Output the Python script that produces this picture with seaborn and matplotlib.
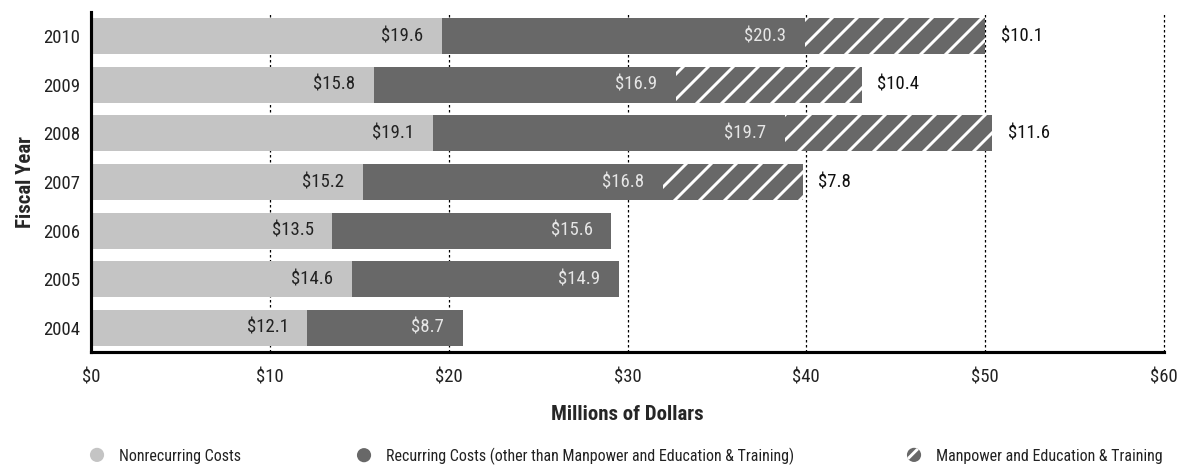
import numpy as np
import pandas as pd
import matplotlib
matplotlib.use('Agg')
import matplotlib.pyplot as plt
import matplotlib.patches as mpatches
from matplotlib.legend_handler import HandlerPatch
import seaborn as sns

# ==========================================
# data
# ==========================================
years = ['2004', '2005', '2006', '2007', '2008', '2009', '2010']
nonrecurring = [12.1, 14.6, 13.5, 15.2, 19.1, 15.8, 19.6]
recurring = [8.7, 14.9, 15.6, 16.8, 19.7, 16.9, 20.3]
manpower = [0, 0, 0, 7.8, 11.6, 10.4, 10.1]
x_ticks = [0, 10, 20, 30, 40, 50, 60]

LIGHT = '#c4c4c4'
DARK = '#686868'

sns.set_style('white')
plt.rcParams['font.family'] = ['Roboto Condensed', 'Archivo Narrow', 'DejaVu Sans']
plt.rcParams['hatch.linewidth'] = 1.4

df = pd.DataFrame({'year': years, 'nonrec': nonrecurring, 'rec': recurring, 'man': manpower})
df['cum_rec'] = df['nonrec'] + df['rec']
df['total'] = df['cum_rec'] + df['man']
order = years[::-1]

fig = plt.figure(figsize=(1190 / 150, 468 / 150), dpi=150)
ax = fig.add_axes([91 / 1190, 1 - 352 / 468, (1164 - 91) / 1190, (352 - 12) / 468])

# dotted grid behind the bars
for t in x_ticks[1:]:
    ax.axvline(t, color='black', lw=0.6, ls=(0, (2, 2)), zorder=0, clip_on=False)

# stacked bars drawn as overlapping cumulative sums
sns.barplot(data=df, x='total', y='year', order=order, color=DARK, saturation=1,
            hatch='//', edgecolor='white', linewidth=0, width=0.74, errorbar=None, ax=ax, zorder=2)
sns.barplot(data=df, x='cum_rec', y='year', order=order, color=DARK, saturation=1,
            linewidth=0, width=0.74, errorbar=None, ax=ax, zorder=3)
sns.barplot(data=df, x='nonrec', y='year', order=order, color=LIGHT, saturation=1,
            linewidth=0, width=0.74, errorbar=None, ax=ax, zorder=4)

# value labels
for i, yr in enumerate(order):
    row = df[df['year'] == yr].iloc[0]
    ax.annotate(f"${row['nonrec']:.1f}", (row['nonrec'], i), xytext=(-9, 0), textcoords='offset points',
                ha='right', va='center', fontsize=9, color='#222222', zorder=5)
    ax.annotate(f"${row['rec']:.1f}", (row['cum_rec'], i), xytext=(-9, 0), textcoords='offset points',
                ha='right', va='center', fontsize=9, color='#e6e6e6', zorder=5)
    if row['man'] > 0:
        ax.annotate(f"${row['man']:.1f}", (row['total'], i), xytext=(7.5, 0), textcoords='offset points',
                    ha='left', va='center', fontsize=9, color='#111111', zorder=5)

ax.set_xlim(0, 60)
ax.set_ylim(6.5, -0.5)
ax.set_xticks(x_ticks)
ax.set_xticklabels([f'${t}' for t in x_ticks])
ax.tick_params(axis='x', length=0, pad=8, labelsize=9, colors='#222222')
ax.tick_params(axis='y', length=0, pad=5, labelsize=9, colors='#222222')
ax.set_xlabel('Millions of Dollars', fontsize=10, fontweight='bold', labelpad=9)
ax.set_ylabel('Fiscal Year', fontsize=10, fontweight='bold', labelpad=4)

for s in ['top', 'right']:
    ax.spines[s].set_visible(False)
for s in ['left', 'bottom']:
    ax.spines[s].set_color('black')
    ax.spines[s].set_linewidth(1.5)
    ax.spines[s].set_zorder(6)


class HandlerCircle(HandlerPatch):
    def create_artists(self, legend, orig_handle, xdescent, ydescent, width, height, fontsize, trans):
        center = (0.5 * width - 0.5 * xdescent, 0.5 * height - 0.5 * ydescent)
        p = mpatches.Circle(xy=center, radius=3.4)
        self.update_prop(p, orig_handle, legend)
        p.set_transform(trans)
        return [p]


handles = [
    (mpatches.Patch(facecolor=LIGHT, edgecolor=LIGHT, lw=0), 'Nonrecurring Costs', 89),
    (mpatches.Patch(facecolor=DARK, edgecolor=DARK, lw=0),
     'Recurring Costs (other than Manpower and Education & Training)', 356),
    (mpatches.Patch(facecolor=DARK, edgecolor='white', hatch='///', lw=0),
     'Manpower and Education & Training', 906),
]
for h, lab, xpix in handles:
    leg = fig.legend([h], [lab], loc='center left', bbox_to_anchor=(xpix / 1190, 1 - 456 / 468),
                     frameon=False, fontsize=7.7, handlelength=1.0, handletextpad=0.85,
                     borderpad=0, borderaxespad=0, handler_map={mpatches.Patch: HandlerCircle()})
    for t in leg.get_texts():
        t.set_color('#222222')

fig.savefig('out.png', dpi=150)
